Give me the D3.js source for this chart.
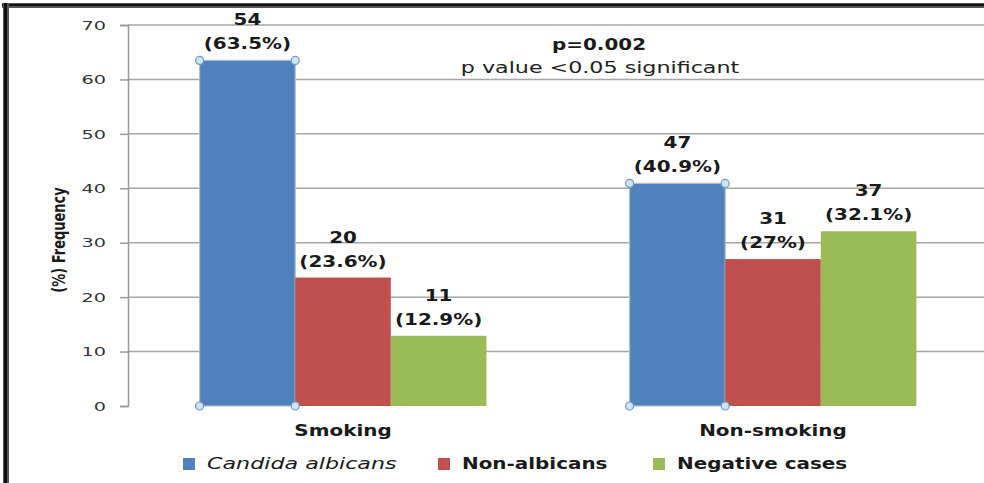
<!DOCTYPE html>
<html>
<head>
	<script src="https://d3js.org/d3.v7.min.js"></script>
	<style>
		body { margin: 0; background: #fff; }
		text { font-family: "DejaVu Sans", Verdana, sans-serif; }
	</style>
</head>
<body>
	<script type="text/javascript">

		// chart data
		var categories = ["Smoking", "Non-smoking"];
		var seriesNames = ["Candida albicans", "Non-albicans", "Negative cases"];
		var counts = [[54, 20, 11], [47, 31, 37]];
		var percents = [[63.5, 23.6, 12.9], [40.9, 27, 32.1]];
		var percentLabels = [["63.5%", "23.6%", "12.9%"], ["40.9%", "27%", "32.1%"]];
		var yTicks = [0, 10, 20, 30, 40, 50, 60, 70];
		var colors = ["#4F81BD", "#C0504D", "#9BBB59"];

		var w = 984, h = 483;
		var mLeft = 128, mRight = 988, mTop = 25, mBottom = 406;

		// the original picture is stretched sideways, so texts get widened too
		var boldStretch = 1.33, normStretch = 1.48;

		var svg = d3.select("body").append("svg")
			.attr("width", w)
			.attr("height", h);

		svg.append("rect").attr("width", w).attr("height", h).attr("fill", "#fff");

		//helper for widened text
		function label(parent, x, y, str, opts) {
			opts = opts || {};
			var sx = opts.bold ? boldStretch : normStretch;
			return parent.append("text")
				.attr("transform", "translate(" + x + "," + y + ") scale(" + sx + ",1)")
				.attr("text-anchor", opts.anchor || "middle")
				.attr("font-size", opts.size || 15)
				.attr("font-weight", opts.bold ? "bold" : "normal")
				.attr("font-style", opts.italic ? "italic" : "normal")
				.attr("fill", opts.fill || "#1a1a1a")
				.text(str);
		}

		var yScale = d3.scaleLinear().domain([0, 70]).range([mBottom, mTop]);
		var x0 = d3.scaleBand().domain(categories).range([mLeft, mRight]).paddingInner(0.333).paddingOuter(0.1665);
		var x1 = d3.scaleBand().domain(seriesNames).range([0, x0.bandwidth()]);

		//gridlines
		svg.selectAll(".grid")
			.data(yTicks.slice(1))
			.enter().append("line")
			.attr("x1", mLeft).attr("x2", w)
			.attr("y1", function(d) { return yScale(d); })
			.attr("y2", function(d) { return yScale(d); })
			.attr("stroke", "#a6a6a6")
			.attr("stroke-width", 1.5);

		//y axis
		var yAxis = d3.axisLeft(yScale).tickValues(yTicks).tickSize(8).tickPadding(14);
		var ga = svg.append("g").attr("transform", "translate(" + mLeft + ",0)").call(yAxis);
		ga.select(".domain").attr("stroke", "#999").attr("stroke-width", 1.5);
		ga.selectAll(".tick line").attr("stroke", "#999").attr("stroke-width", 1.5);
		ga.selectAll(".tick text")
			.attr("font-size", 13)
			.attr("fill", "#333")
			.attr("font-family", "DejaVu Sans, sans-serif")
			.attr("x", -22 / normStretch)
			.attr("transform", "scale(" + normStretch + ",1)");

		//bars
		var groups = svg.selectAll(".group")
			.data(categories)
			.enter().append("g")
			.attr("transform", function(d) { return "translate(" + x0(d) + ",0)"; });

		groups.each(function(cat, ci) {
			var g = d3.select(this);
			var rows = seriesNames.map(function(s, si) {
				return { s: s, si: si, v: percents[ci][si], n: counts[ci][si], p: percentLabels[ci][si] };
			});
			g.selectAll("rect")
				.data(rows)
				.enter().append("rect")
				.attr("x", function(d) { return x1(d.s); })
				.attr("y", function(d) { return yScale(d.v); })
				.attr("width", x1.bandwidth())
				.attr("height", function(d) { return mBottom - yScale(d.v); })
				.attr("fill", function(d) { return colors[d.si]; })
				.attr("stroke", function(d) { return d.si == 0 ? "#b5bcc6" : "none"; })
				.attr("stroke-width", 1.2);

			rows.forEach(function(d) {
				var cx = x1(d.s) + x1.bandwidth() / 2;
				label(g, cx, yScale(d.v) - 35, d.n, { bold: true, size: 15 });
				label(g, cx, yScale(d.v) - 11, "(" + d.p + ")", { bold: true, size: 15 });
			});

			//selection handles on first series
			var b = rows[0];
			var hx = [x1(b.s), x1(b.s) + x1.bandwidth()];
			var hy = [yScale(b.v), mBottom];
			hx.forEach(function(px) {
				hy.forEach(function(py) {
					g.append("circle")
						.attr("cx", px).attr("cy", py).attr("r", 4)
						.attr("fill", "#cfe3f3")
						.attr("stroke", "#6b9cc8")
						.attr("stroke-width", 1.2);
				});
			});
		});

		//category labels
		categories.forEach(function(c) {
			label(svg, x0(c) + x0.bandwidth() / 2, 436, c, { bold: true, size: 15 });
		});

		//y label
		svg.append("text")
			.attr("transform", "translate(65,240) rotate(-90) scale(1,1.3)")
			.attr("text-anchor", "middle")
			.attr("font-size", 13)
			.attr("font-weight", "bold")
			.attr("font-family", "DejaVu Sans Condensed, DejaVu Sans, sans-serif")
			.attr("fill", "#1a1a1a")
			.text("(%) Frequency");

		//p value note
		label(svg, 599, 50, "p=0.002", { bold: true, size: 15 });
		label(svg, 600, 73, "p value <0.05 significant", { size: 15, fill: "#222" });

		//frame lines (top and left)
		svg.append("rect").attr("x", 2).attr("y", 3).attr("width", w).attr("height", 5).attr("fill", "#555");
		svg.append("rect").attr("x", 2).attr("y", 4).attr("width", w).attr("height", 2).attr("fill", "#111");
		svg.append("rect").attr("x", 3).attr("y", 3).attr("width", 6).attr("height", h).attr("fill", "#555");
		svg.append("rect").attr("x", 4).attr("y", 3).attr("width", 3).attr("height", h).attr("fill", "#111");

		//legend
		var legendX = [183, 438, 653];
		seriesNames.forEach(function(s, i) {
			svg.append("rect")
				.attr("x", legendX[i]).attr("y", 458)
				.attr("width", 12).attr("height", 12)
				.attr("fill", colors[i]);
			label(svg, legendX[i] + 24, 469, s, { bold: i != 0, italic: i == 0, anchor: "start", size: 15 });
		});

	</script>
</body>
</html>
